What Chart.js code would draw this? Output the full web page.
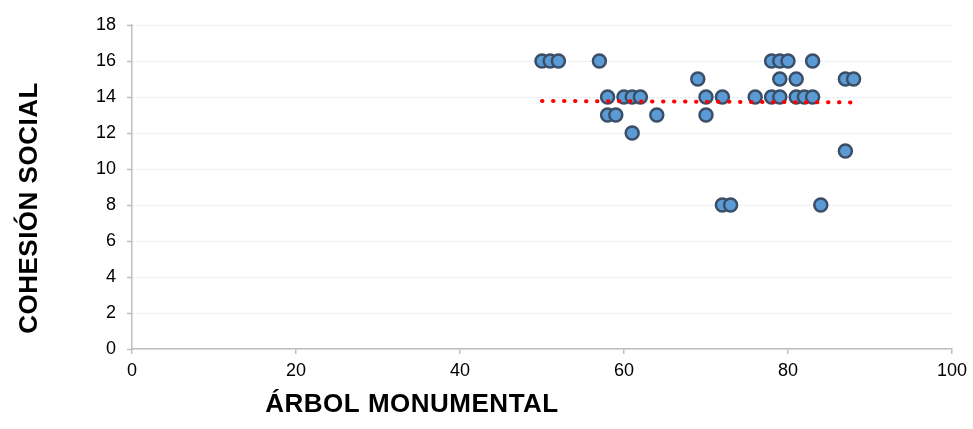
<html>
<head>
<title>Cohesión social vs árbol monumental</title>
<style>
  body { margin: 0; background: #fff; }
  #wrap { width: 973px; height: 429px; }
</style>
</head>
<body>
<div id="wrap"><canvas id="myChart" width="973" height="429"></canvas></div>
<script src="https://cdn.jsdelivr.net/npm/chart.js@4/dist/chart.umd.min.js"></script>
<script>
// points (árbol monumental, cohesión social)
var arbolX = [50, 51, 52, 57, 78, 79, 80, 83,
              69, 79, 81, 87, 88,
              58, 60, 61, 62, 70, 72, 76, 78, 79, 81, 82, 83,
              58, 59, 64, 70,
              61,
              87,
              72, 73, 84];
var cohesionY = [16, 16, 16, 16, 16, 16, 16, 16,
                 15, 15, 15, 15, 15,
                 14, 14, 14, 14, 14, 14, 14, 14, 14, 14, 14, 14,
                 13, 13, 13, 13,
                 12,
                 11,
                 8, 8, 8];
// linear trend line ends
var trendX = [50, 88];
var trendY = [13.78, 13.70];
var xTicks = [0, 20, 40, 60, 80, 100];
var yTicks = [0, 2, 4, 6, 8, 10, 12, 14, 16, 18];
var xTitle = 'ÁRBOL MONUMENTAL';
var yTitle = 'COHESIÓN SOCIAL';

var points = arbolX.map(function(x, i) { return {x: x, y: cohesionY[i]}; });
var trend = trendX.map(function(x, i) { return {x: x, y: trendY[i]}; });

var tickFont = {family: 'Liberation Sans', size: 18};

// axis titles sit off-centre in the original, so draw them by hand
var axisTitles = {
    id: 'axisTitles',
    afterDraw: function(chart) {
        var ctx = chart.ctx;
        ctx.save();
        ctx.font = 'bold 26px "Liberation Sans"';
        ctx.letterSpacing = '0.5px';
        ctx.fillStyle = '#000';
        ctx.textAlign = 'center';
        ctx.textBaseline = 'middle';
        ctx.fillText(xTitle, 412, 405);
        ctx.translate(30, 208);
        ctx.rotate(-Math.PI / 2);
        ctx.fillText(yTitle, 0, 0);
        ctx.restore();
    }
};

new Chart(document.getElementById('myChart'), {
    type: 'scatter',
    data: {
        datasets: [{
            type: 'line',
            data: trend,
            order: 0,
            borderColor: '#ff0000',
            borderWidth: 4,
            borderDash: [0.5, 10.5],
            borderCapStyle: 'round',
            pointRadius: 0,
            fill: false
        }, {
            data: points,
            order: 1,
            pointRadius: 6.5,
            pointBorderWidth: 2.5,
            backgroundColor: '#5b9bd5',
            borderColor: '#3b4e68'
        }]
    },
    options: {
        responsive: false,
        animation: false,
        layout: {padding: {top: 25, right: 21, left: 0, bottom: 0}},
        plugins: {legend: {display: false}, tooltip: {enabled: false}},
        scales: {
            x: {
                type: 'linear',
                min: 0, max: 100,
                afterFit: function(s) { s.height = 80; },
                afterBuildTicks: function(s) { s.ticks = xTicks.map(function(v) { return {value: v}; }); },
                grid: {drawOnChartArea: false, tickLength: 5, tickColor: '#bfbfbf', lineWidth: 1.5},
                border: {color: '#bfbfbf', width: 1.5},
                ticks: {font: tickFont, color: '#000', padding: 6, maxRotation: 0}
            },
            y: {
                min: 0, max: 18,
                afterFit: function(s) { s.width = 132; },
                afterBuildTicks: function(s) { s.ticks = yTicks.map(function(v) { return {value: v}; }); },
                grid: {color: '#dce6f2', lineWidth: 1, tickLength: 5, tickColor: '#bfbfbf', tickWidth: 1.5},
                border: {color: '#bfbfbf', width: 1.5, dash: [2, 2]},
                ticks: {font: tickFont, color: '#000', padding: 11}
            }
        }
    },
    plugins: [axisTitles]
});
</script>
</body>
</html>
